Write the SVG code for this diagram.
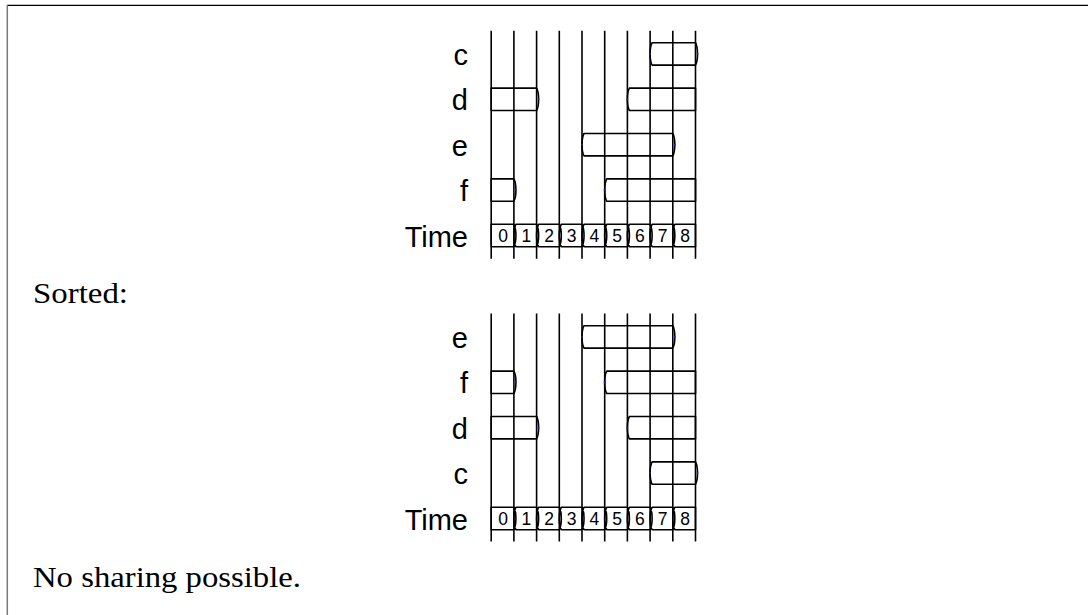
<svg xmlns="http://www.w3.org/2000/svg" xmlns:xlink="http://www.w3.org/1999/xlink" width="1088" height="615" viewBox="0 0 1088 615">
<style>
.ln{stroke:#000;stroke-width:1.6;fill:none}
.bx{stroke:#000;stroke-width:1.6;fill:none;stroke-linejoin:round}
.lbl{font-family:"Liberation Sans",Arial,sans-serif;font-size:29px;fill:#000;text-anchor:end}
.dg{font-family:"Liberation Sans",Arial,sans-serif;font-size:17.5px;fill:#000;text-anchor:middle}
.tx{font-family:"Liberation Serif","Times New Roman",serif;font-size:30px;fill:#000}
.tip{fill:#1c1cd0}
</style>
<defs>
<g id="grid">
<path class="ln" d="M491.2,0V228 M513.9,0V228 M536.6,0V228 M559.3,0V228 M582,0V228 M604.7,0V228 M627.4,0V228 M650.1,0V228 M672.8,0V228 M695.5,0V228"/>
</g>
<g id="rowC">
<path class="bx" d="M652.1,0 H695.5 C698.2,5 698.2,17.4 695.5,22.4 H652.1 C649.4,17.4 649.4,5 652.1,0 Z"/>
<circle class="tip" cx="650.1" cy="11.2" r="0.9"/><circle class="tip" cx="697.5" cy="11.2" r="0.9"/>
</g>
<g id="rowD">
<path class="bx" d="M491.2,0 H536.6 C539.3,5 539.3,17.4 536.6,22.4 H491.2 Z M629.4,0 H695.5 V22.4 H629.4 C626.7,17.4 626.7,5 629.4,0 Z"/>
<circle class="tip" cx="538.6" cy="11.2" r="0.9"/><circle class="tip" cx="627.4" cy="11.2" r="0.9"/>
</g>
<g id="rowE">
<path class="bx" d="M584,0 H672.8 C675.5,5 675.5,17.4 672.8,22.4 H584 C581.3,17.4 581.3,5 584,0 Z"/>
<circle class="tip" cx="582" cy="11.2" r="0.9"/><circle class="tip" cx="674.8" cy="11.2" r="0.9"/>
</g>
<g id="rowF">
<path class="bx" d="M491.2,0 H513.9 C516.6,5 516.6,17.4 513.9,22.4 H491.2 Z M606.7,0 H695.5 V22.4 H606.7 C604,17.4 604,5 606.7,0 Z"/>
<circle class="tip" cx="515.9" cy="11.2" r="0.9"/><circle class="tip" cx="604.7" cy="11.2" r="0.9"/>
</g>
<g id="rowT">
<path class="bx" d="M491.2,0 H513.9 C516.6,5 516.6,17.4 513.9,22.4 H491.2 Z
M515.9,0 H536.6 C539.3,5 539.3,17.4 536.6,22.4 H515.9 C513.2,17.4 513.2,5 515.9,0 Z
M538.6,0 H559.3 C562,5 562,17.4 559.3,22.4 H538.6 C535.9,17.4 535.9,5 538.6,0 Z
M561.3,0 H582 C584.7,5 584.7,17.4 582,22.4 H561.3 C558.6,17.4 558.6,5 561.3,0 Z
M584,0 H604.7 C607.4,5 607.4,17.4 604.7,22.4 H584 C581.3,17.4 581.3,5 584,0 Z
M606.7,0 H627.4 C630.1,5 630.1,17.4 627.4,22.4 H606.7 C604,17.4 604,5 606.7,0 Z
M629.4,0 H650.1 C652.8,5 652.8,17.4 650.1,22.4 H629.4 C626.7,17.4 626.7,5 629.4,0 Z
M652.1,0 H672.8 C675.5,5 675.5,17.4 672.8,22.4 H652.1 C649.4,17.4 649.4,5 652.1,0 Z
M674.8,0 H695.5 V22.4 H674.8 C672.1,17.4 672.1,5 674.8,0 Z"/>
<text class="dg" y="17.6"><tspan x="503">0</tspan><tspan x="526.3">1</tspan><tspan x="549">2</tspan><tspan x="571.7">3</tspan><tspan x="594.4">4</tspan><tspan x="617.1">5</tspan><tspan x="639.8">6</tspan><tspan x="662.5">7</tspan><tspan x="685.2">8</tspan></text>
</g>
</defs>

<g id="frame">
<line x1="7" y1="5.3" x2="1088" y2="5.3" stroke="#000" stroke-width="1.3"/>
<line x1="7.3" y1="5" x2="7.3" y2="615" stroke="#777" stroke-width="1.5"/>
</g>

<g id="connectors">
<use xlink:href="#grid" href="#grid" y="30.7"/>
<use xlink:href="#grid" href="#grid" y="313.5"/>
</g>

<g id="top-diagram">
<g id="top-c"><text class="lbl" x="468" y="65">c</text><use href="#rowC" xlink:href="#rowC" y="42.7"/></g>
<g id="top-d"><text class="lbl" x="468" y="110.4">d</text><use href="#rowD" xlink:href="#rowD" y="88.1"/></g>
<g id="top-e"><text class="lbl" x="468" y="155.8">e</text><use href="#rowE" xlink:href="#rowE" y="133.5"/></g>
<g id="top-f"><text class="lbl" x="468" y="201.2">f</text><use href="#rowF" xlink:href="#rowF" y="178.9"/></g>
<g id="top-time"><text class="lbl" x="468" y="246.6">Time</text><use href="#rowT" xlink:href="#rowT" y="224.3"/></g>
</g>

<g id="sorted-label"><text class="tx" x="33" y="303" textLength="95" lengthAdjust="spacingAndGlyphs">Sorted:</text></g>

<g id="bottom-diagram">
<g id="bot-e"><text class="lbl" x="468" y="348">e</text><use href="#rowE" xlink:href="#rowE" y="325.7"/></g>
<g id="bot-f"><text class="lbl" x="468" y="393.4">f</text><use href="#rowF" xlink:href="#rowF" y="371.1"/></g>
<g id="bot-d"><text class="lbl" x="468" y="438.8">d</text><use href="#rowD" xlink:href="#rowD" y="416.5"/></g>
<g id="bot-c"><text class="lbl" x="468" y="484.2">c</text><use href="#rowC" xlink:href="#rowC" y="461.9"/></g>
<g id="bot-time"><text class="lbl" x="468" y="529.6">Time</text><use href="#rowT" xlink:href="#rowT" y="507.3"/></g>
</g>

<g id="conclusion"><text class="tx" x="33" y="586.7" textLength="268" lengthAdjust="spacingAndGlyphs">No sharing possible.</text></g>
</svg>
